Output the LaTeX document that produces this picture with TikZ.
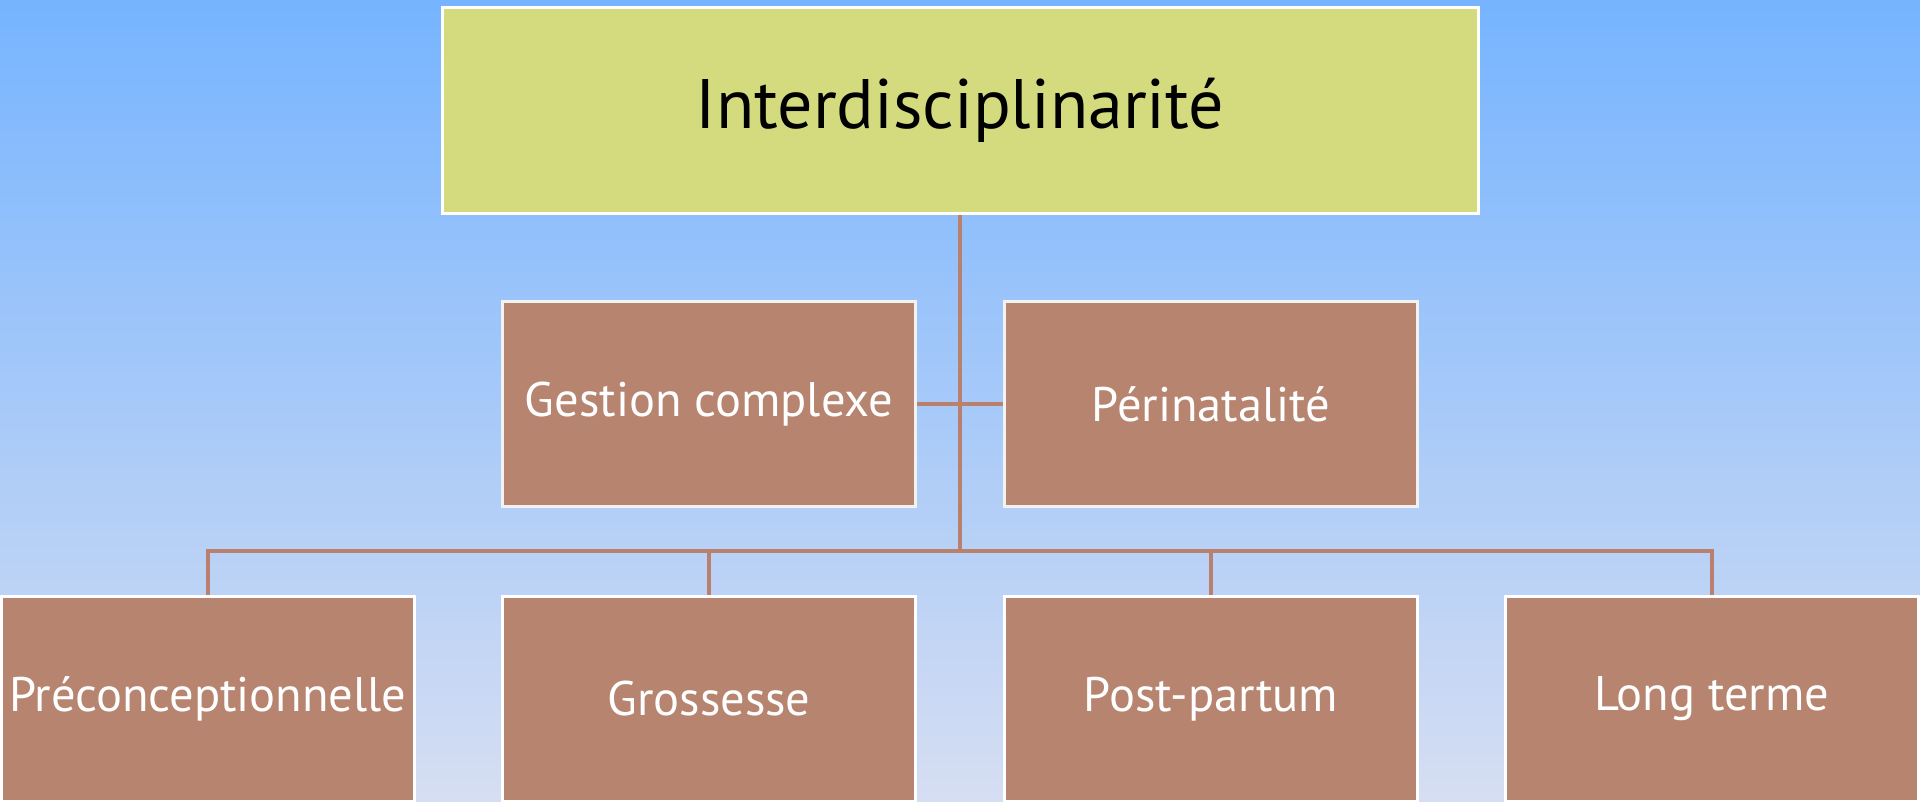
\documentclass[tikz,border=0pt]{standalone}
\usepackage{fontspec}
\setmainfont{PT Sans}
\begin{document}
\begin{tikzpicture}[x=1pt,y=-1pt,
  box/.style={draw=white, line width=3pt, inner sep=0pt, text=white,
    minimum width=413pt, minimum height=205pt, fill=brick,
    font=\fontsize{48.5}{54}\selectfont},
  link/.style={draw=conn, line width=3.6pt}]
\definecolor{bgtop}{RGB}{118,180,255}
\definecolor{bgmid}{RGB}{150,196,248}
\definecolor{bgbot}{RGB}{214,222,242}
\definecolor{lime}{RGB}{212,218,126}
\definecolor{brick}{RGB}{183,132,112}
\definecolor{conn}{RGB}{186,128,110}
\shade[top color=bgtop, middle color=bgmid, bottom color=bgbot] (0,0) rectangle (1920,801);
\useasboundingbox (0,0) rectangle (1920,801);
\node[draw=white, line width=3pt, fill=lime, inner sep=0pt, minimum width=1036pt,
  minimum height=206pt, font=\fontsize{70}{78}\selectfont] (top) at (960,110) {Interdisciplinarité};
\node[box, draw=white!90!gray] (m1) at (709,404) {Gestion complexe};
\node[box, draw=white!90!gray] (m2) at (1211,404) {Périnatalité};
\node[box] (b1) at (208,699) {Préconceptionnelle};
\node[box] (b2) at (709,699) {Grossesse};
\node[box] (b3) at (1211,699) {Post-partum};
\node[box] (b4) at (1712,699) {Long terme};
\coordinate (hub) at (960,551);
\draw[link] (top.south) -- (hub);
\draw[link] (m1.east) -- (m2.west);
\draw[link] (b1.north) |- (hub) -| (b4.north);
\draw[link] (b2.north) -- (b2.north |- hub);
\draw[link] (b3.north) -- (b3.north |- hub);
\end{tikzpicture}
\end{document}
